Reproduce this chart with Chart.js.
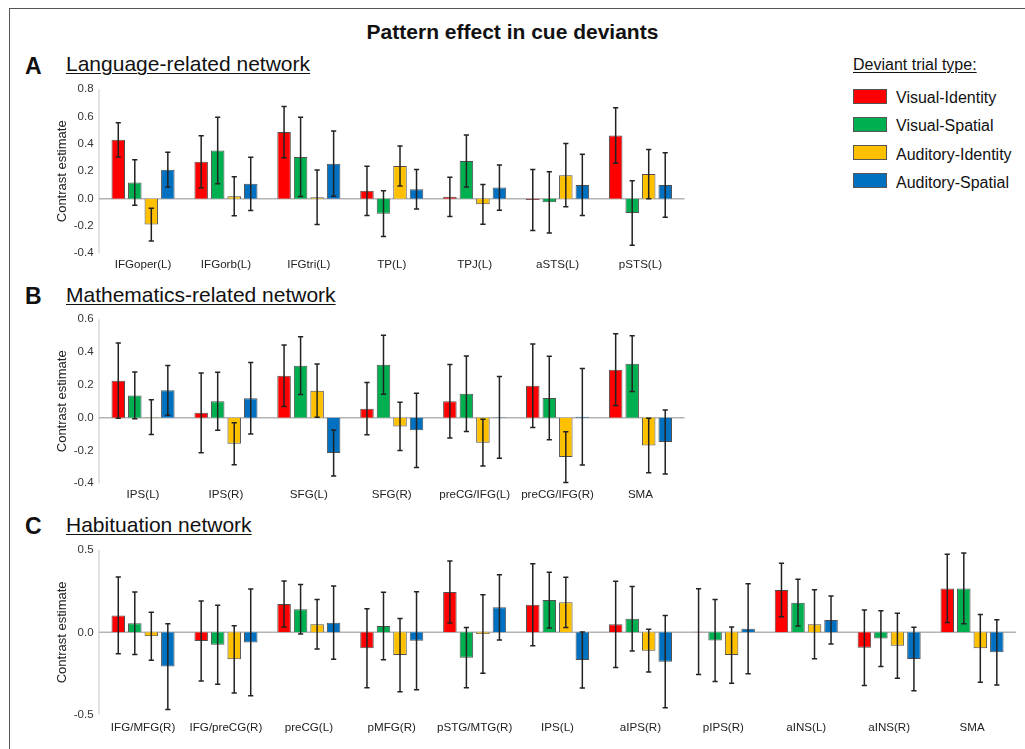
<!DOCTYPE html>
<html>
<head>
<meta charset="utf-8">
<script src="https://cdn.jsdelivr.net/npm/chart.js@4.4.1/dist/chart.umd.min.js"></script>
<style>
  html, body { margin:0; padding:0; background:#fff; }
  body { width:1025px; height:749px; position:relative; overflow:hidden; font-family:"Liberation Sans", Arial, sans-serif; color:#111; }
  .abs { position:absolute; white-space:nowrap; line-height:1.117em; }
  canvas { position:absolute; left:0; }
  .frame { position:absolute; left:9px; top:8px; width:1200px; height:900px; border-left:1px solid #555; border-top:1px solid #555; }
  .ul { text-decoration:underline; text-decoration-thickness:1.3px; text-underline-offset:2px; }
  .sw { position:absolute; width:32px; height:13px; border:1px solid #555; }
</style>
</head>
<body>
<div class="frame"></div>
<div class="abs" style="left:0;width:1025px;text-align:center;top:20px;font-weight:bold;font-size:21px;">Pattern effect in cue deviants</div>

<div class="abs" style="left:25px;top:54px;font-weight:bold;font-size:23px;">A</div>
<div class="abs ul" style="left:66px;top:51.5px;font-size:21px;">Language-related network</div>
<div class="abs" style="left:25px;top:284px;font-weight:bold;font-size:23px;">B</div>
<div class="abs ul" style="left:66px;top:283px;font-size:21px;">Mathematics-related network</div>
<div class="abs" style="left:25px;top:514px;font-weight:bold;font-size:23px;">C</div>
<div class="abs ul" style="left:66px;top:513px;font-size:21px;">Habituation network</div>

<div id="legend"></div>

<canvas id="cA" width="1025" height="200" style="top:80px"></canvas>
<canvas id="cB" width="1025" height="200" style="top:310px"></canvas>
<canvas id="cC" width="1025" height="209" style="top:540px"></canvas>

<script>
// ---------- DATA ----------
const seriesNames = ['Visual-Identity', 'Visual-Spatial', 'Auditory-Identity', 'Auditory-Spatial'];
const seriesColors = ['#FF0000', '#00B050', '#FFC000', '#0070C0'];

// Panel A: Language-related network
const catsA = ['IFGoper(L)', 'IFGorb(L)', 'IFGtri(L)', 'TP(L)', 'TPJ(L)', 'aSTS(L)', 'pSTS(L)'];
const A_visId     = [0.430, 0.270, 0.487, 0.057, 0.013, -0.010, 0.462];
const A_visIdErr  = [0.126, 0.190, 0.188, 0.180, 0.143, 0.223, 0.203];
const A_visSp     = [0.118, 0.352, 0.305, -0.110, 0.275, -0.027, -0.106];
const A_visSpErr  = [0.167, 0.243, 0.290, 0.167, 0.190, 0.224, 0.236];
const A_audId     = [-0.190, 0.017, 0.010, 0.239, -0.042, 0.172, 0.180];
const A_audIdErr  = [0.120, 0.143, 0.200, 0.147, 0.145, 0.232, 0.180];
const A_audSp     = [0.212, 0.108, 0.256, 0.069, 0.081, 0.100, 0.100];
const A_audSpErr  = [0.127, 0.195, 0.238, 0.145, 0.166, 0.224, 0.236];
const yRangeA = [-0.4, 0.8, 0.2];

// Panel B: Mathematics-related network
const catsB = ['IPS(L)', 'IPS(R)', 'SFG(L)', 'SFG(R)', 'preCG/IFG(L)', 'preCG/IFG(R)', 'SMA'];
const B_visId     = [0.226, 0.030, 0.256, 0.055, 0.100, 0.195, 0.293];
const B_visIdErr  = [0.230, 0.243, 0.188, 0.159, 0.224, 0.254, 0.219];
const B_visSp     = [0.136, 0.100, 0.317, 0.323, 0.146, 0.120, 0.329];
const B_visSpErr  = [0.142, 0.177, 0.176, 0.180, 0.230, 0.255, 0.170];
const B_audId     = [0.003, -0.159, 0.165, -0.053, -0.152, -0.240, -0.169];
const B_audIdErr  = [0.106, 0.128, 0.162, 0.147, 0.142, 0.155, 0.166];
const B_audSp     = [0.167, 0.118, -0.215, -0.077, 0.002, 0.006, -0.148];
const B_audSpErr  = [0.152, 0.218, 0.140, 0.226, 0.249, 0.294, 0.195];
const yRangeB = [-0.4, 0.6, 0.2];

// Panel C: Habituation network
const catsC = ['IFG/MFG(R)', 'IFG/preCG(R)', 'preCG(L)', 'pMFG(R)', 'pSTG/MTG(R)', 'IPS(L)', 'aIPS(R)', 'pIPS(R)', 'aINS(L)', 'aINS(R)', 'SMA'];
const C_visId     = [0.103, -0.053, 0.172, -0.097, 0.245, 0.168, 0.049, 0.004, 0.257, -0.093, 0.267];
const C_visIdErr  = [0.233, 0.243, 0.140, 0.240, 0.188, 0.249, 0.262, 0.260, 0.162, 0.229, 0.207];
const C_visSp     = [0.055, -0.075, 0.140, 0.038, -0.154, 0.196, 0.083, -0.049, 0.180, -0.038, 0.267];
const C_visSpErr  = [0.190, 0.240, 0.150, 0.205, 0.183, 0.169, 0.196, 0.249, 0.142, 0.169, 0.215];
const C_audId     = [-0.024, -0.164, 0.049, -0.138, -0.010, 0.182, -0.111, -0.138, 0.049, -0.081, -0.097];
const C_audIdErr  = [0.146, 0.204, 0.150, 0.222, 0.239, 0.152, 0.130, 0.171, 0.210, 0.197, 0.206];
const C_audSp     = [-0.208, -0.061, 0.059, -0.051, 0.152, -0.168, -0.178, 0.022, 0.075, -0.162, -0.121];
const C_audSpErr  = [0.260, 0.324, 0.222, 0.298, 0.198, 0.170, 0.280, 0.273, 0.146, 0.193, 0.198];
const yRangeC = [-0.5, 0.5, 0.5];

// ---------- LEGEND (HTML) ----------
(function(){
  const lg = document.getElementById('legend');
  let html = '<div class="abs ul" style="left:853px;top:56px;font-size:16px;">Deviant trial type:</div>';
  seriesNames.forEach((n,i)=>{
    const cy = 96 + i*28.3;
    html += '<div class="sw" style="left:853px;top:'+(cy-7.5)+'px;background:'+seriesColors[i]+'"></div>';
    html += '<div class="abs" style="left:896px;top:'+(cy-7)+'px;font-size:16px;">'+n+'</div>';
  });
  lg.innerHTML = html;
})();

// ---------- CHARTS ----------
const FONT = '"Liberation Sans", Arial, sans-serif';
const AXIS_GAP = 2.6;

const errPlugin = {
  id: 'errbars',
  beforeDatasetsDraw(chart) {
    const {ctx, chartArea: a, scales: {y}} = chart;
    ctx.save();
    ctx.strokeStyle = '#c4c4c4';
    ctx.lineWidth = 1;
    ctx.beginPath();
    ctx.moveTo(a.left - AXIS_GAP, a.top);
    ctx.lineTo(a.left - AXIS_GAP, a.bottom);
    ctx.stroke();
    const y0 = y.getPixelForValue(0);
    ctx.strokeStyle = '#b4b4b4';
    ctx.lineWidth = 1.5;
    ctx.beginPath();
    ctx.moveTo(a.left - AXIS_GAP, y0);
    ctx.lineTo(a.right + AXIS_GAP, y0);
    ctx.stroke();
    ctx.restore();
  },
  afterDatasetsDraw(chart) {
    const {ctx, scales: {y}} = chart;
    ctx.save();
    ctx.strokeStyle = '#222';
    ctx.lineWidth = 1.5;
    chart.data.datasets.forEach((ds, i) => {
      const meta = chart.getDatasetMeta(i);
      meta.data.forEach((bar, j) => {
        const v = ds.data[j], e = ds.errors[j];
        const yt = y.getPixelForValue(v + e);
        const yb = y.getPixelForValue(v - e);
        const x = bar.x;
        ctx.beginPath();
        ctx.moveTo(x, yt); ctx.lineTo(x, yb);
        ctx.moveTo(x - 2.6, yt); ctx.lineTo(x + 2.6, yt);
        ctx.moveTo(x - 2.6, yb); ctx.lineTo(x + 2.6, yb);
        ctx.stroke();
      });
    });
    ctx.restore();
  }
};

function makeChart(id, cats, vals, errs, yr, opts) {
  const datasets = vals.map((d, i) => ({
    label: seriesNames[i],
    data: d,
    errors: errs[i],
    backgroundColor: seriesColors[i],
    borderColor: '#505050',
    borderWidth: 1,
    categoryPercentage: 0.797,
    barPercentage: 0.818
  }));
  return new Chart(document.getElementById(id), {
    type: 'bar',
    data: { labels: cats, datasets },
    plugins: [errPlugin],
    options: {
      responsive: false,
      animation: false,
      devicePixelRatio: 1,
      layout: { padding: { left: 53, right: opts.padRight, top: opts.padTop, bottom: 0 } },
      plugins: { legend: { display: false }, tooltip: { enabled: false } },
      scales: {
        x: {
          grid: { display: false, drawTicks: false },
          border: { display: false },
          ticks: { autoSkip: false, maxRotation: 0, minRotation: 0, padding: opts.xPad,
                   font: { family: FONT, size: 11.6 }, color: '#222' },
          afterFit(s) { s.height = opts.xHeight; s.paddingLeft = 0; s.paddingRight = 0; }
        },
        y: {
          min: yr[0], max: yr[1],
          grid: { display: false, drawTicks: false },
          border: { display: false },
          ticks: { stepSize: yr[2], padding: 8, font: { family: FONT, size: 11.5 }, color: '#333',
                   callback: v => Number(v).toFixed(1) },
          title: { display: true, text: 'Contrast estimate', color: '#222',
                   font: { family: FONT, size: 13 }, padding: { top: 2, bottom: 0 } },
          afterFit(s) { s.width = 48.6; s.paddingTop = 0; s.paddingBottom = 0; }
        }
      }
    }
  });
}

makeChart('cA', catsA,
  [A_visId, A_visSp, A_audId, A_audSp],
  [A_visIdErr, A_visSpErr, A_audIdErr, A_audSpErr],
  yRangeA, { padRight: 1025 - 681.9, padTop: 9.3, xHeight: 26.7, xPad: 5 });

makeChart('cB', catsB,
  [B_visId, B_visSp, B_audId, B_audSp],
  [B_visIdErr, B_visSpErr, B_audIdErr, B_audSpErr],
  yRangeB, { padRight: 1025 - 681.9, padTop: 9.3, xHeight: 26.7, xPad: 5 });

makeChart('cC', catsC,
  [C_visId, C_visSp, C_audId, C_audSp],
  [C_visIdErr, C_visSpErr, C_audIdErr, C_audSpErr],
  yRangeC, { padRight: 1025 - 1013.5, padTop: 10, xHeight: 34.3, xPad: 6 });
</script>
</body>
</html>
